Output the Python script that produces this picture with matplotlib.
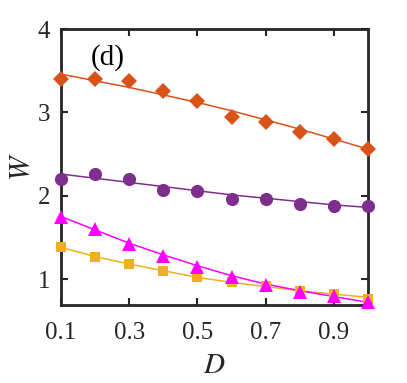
import matplotlib
matplotlib.use('Agg')
import matplotlib.pyplot as plt
import numpy as np

D = [0.1, 0.2, 0.3, 0.4, 0.5, 0.6, 0.7, 0.8, 0.9, 1.0]

# markers (simulation)
w_diamond = [3.40, 3.40, 3.38, 3.26, 3.14, 2.94, 2.88, 2.77, 2.68, 2.56]
w_circle = [2.20, 2.26, 2.20, 2.07, 2.06, 1.96, 1.96, 1.90, 1.88, 1.88]
w_triangle = [1.75, 1.60, 1.42, 1.28, 1.14, 1.03, 0.93, 0.85, 0.80, 0.72]
w_square = [1.38, 1.26, 1.18, 1.10, 1.02, 0.96, 0.92, 0.86, 0.82, 0.76]

# solid lines (theory)
fit_diamond = [3.46, 3.38, 3.30, 3.21, 3.12, 3.02, 2.91, 2.80, 2.68, 2.56]
fit_circle = [2.26, 2.21, 2.16, 2.11, 2.06, 2.01, 1.97, 1.93, 1.89, 1.86]
fit_triangle = [1.75, 1.59, 1.43, 1.29, 1.16, 1.04, 0.94, 0.86, 0.79, 0.72]
fit_square = [1.38, 1.27, 1.18, 1.10, 1.02, 0.96, 0.91, 0.86, 0.82, 0.78]

orange = '#D95319'
purple = '#7E2F8E'
magenta = '#FF00FF'
yellow = '#EDB120'

plt.rcParams['font.family'] = ['Liberation Serif', 'DejaVu Serif']
plt.rcParams['mathtext.fontset'] = 'stix'

fig = plt.figure(figsize=(4.07, 3.83), dpi=100)
ax = fig.add_axes([0.150, 0.204, 0.754, 0.720])

series = [
    (fit_diamond, w_diamond, orange, 'D', 8.5),
    (fit_circle, w_circle, purple, 'o', 9.5),
    (fit_square, w_square, yellow, 's', 7),
    (fit_triangle, w_triangle, magenta, '^', 10),
]
for fit, w, col, mk, ms in series:
    ax.plot(D, fit, '-', color=col, lw=1.1)
    ax.plot(D, w, linestyle='none', marker=mk, color=col, markersize=ms,
            markeredgewidth=0, clip_on=False, zorder=3)

ax.set_xlim(0.1, 1.0)
ax.set_ylim(0.69, 4)
ax.set_xticks([0.1, 0.3, 0.5, 0.7, 0.9])
ax.set_xticklabels(['0.1', '0.3', '0.5', '0.7', '0.9'])
ax.set_yticks([1, 2, 3, 4])
ax.tick_params(direction='in', top=True, right=True, length=5, width=1.5,
               labelsize=18, color='#262626', labelcolor='#262626')
ax.tick_params(axis='x', pad=12)
ax.tick_params(axis='y', pad=8)
for s in ax.spines.values():
    s.set_linewidth(2)
    s.set_color('#262626')

ax.set_xlabel('$D$', fontsize=21, color='#262626', labelpad=7)
ax.set_ylabel('$W$', fontsize=21, color='#262626', labelpad=2)
ax.text(0.238, 3.66, '(d)', fontsize=21, ha='center', va='center', color='black')

fig.savefig('out.png', dpi=100)
